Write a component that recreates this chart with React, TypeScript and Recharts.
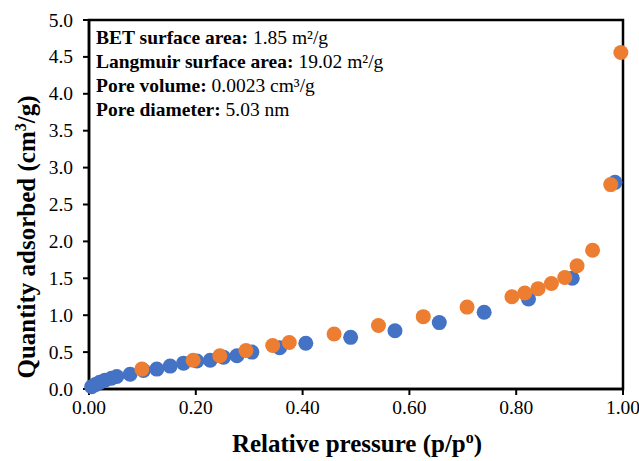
import { ScatterChart, Scatter, XAxis, YAxis, ReferenceArea, Customized } from "recharts";

// blue series
const pressureBlue = [0.005, 0.012, 0.02, 0.03, 0.042, 0.052, 0.077, 0.102, 0.127, 0.152, 0.177, 0.202, 0.227, 0.252, 0.277, 0.305, 0.357, 0.406, 0.49, 0.573, 0.656, 0.74, 0.823, 0.905, 0.985];
const quantityBlue = [0.03, 0.06, 0.09, 0.12, 0.145, 0.17, 0.2, 0.25, 0.27, 0.31, 0.35, 0.38, 0.39, 0.43, 0.45, 0.5, 0.56, 0.62, 0.7, 0.79, 0.9, 1.04, 1.22, 1.5, 2.8];

// orange series
const pressureOrange = [0.099, 0.195, 0.245, 0.294, 0.344, 0.375, 0.459, 0.542, 0.626, 0.708, 0.792, 0.816, 0.841, 0.866, 0.891, 0.914, 0.943, 0.977, 0.996];
const quantityOrange = [0.27, 0.39, 0.45, 0.52, 0.59, 0.63, 0.745, 0.86, 0.98, 1.11, 1.25, 1.3, 1.36, 1.43, 1.51, 1.67, 1.88, 2.77, 4.56];

const xTicks = [0, 0.2, 0.4, 0.6, 0.8, 1.0];
const yTicks = [0, 0.5, 1.0, 1.5, 2.0, 2.5, 3.0, 3.5, 4.0, 4.5, 5.0];

const infoLines = [
  { label: "BET surface area:", value: " 1.85 m²/g" },
  { label: "Langmuir surface area:", value: " 19.02 m²/g" },
  { label: "Pore volume:", value: " 0.0023 cm³/g" },
  { label: "Pore diameter:", value: " 5.03 nm" },
];

const blueData = pressureBlue.map((p, i) => ({ x: p, y: quantityBlue[i] }));
const orangeData = pressureOrange.map((p, i) => ({ x: p, y: quantityOrange[i] }));

const font = "Liberation Serif, DejaVu Serif, serif";

const dot = (color: string) => (props: any) => (
  <circle cx={props.cx} cy={props.cy} r={7.5} fill={color} />
);

const XTick = (props: any) => (
  <text
    x={props.x}
    y={props.y + 17}
    textAnchor="middle"
    fontSize={19.5}
    fill="#000"
    style={{ fontFamily: font }}
  >
    {Number(props.payload.value).toFixed(2)}
  </text>
);

const YTick = (props: any) => (
  <text
    x={props.x}
    y={props.y + 6.5}
    textAnchor="end"
    fontSize={19.5}
    fill="#000"
    style={{ fontFamily: font }}
  >
    {Number(props.payload.value).toFixed(1)}
  </text>
);

function Labels() {
  return (
    <g style={{ fontFamily: font }} fill="#000">
      {infoLines.map((l, i) => (
        <text key={i} x={96} y={44 + i * 24} fontSize={19.5} style={{ fontFamily: font }}>
          <tspan fontWeight="bold">{l.label}</tspan>
          <tspan>{l.value}</tspan>
        </text>
      ))}
      <text
        x={357}
        y={452}
        textAnchor="middle"
        fontSize={25}
        fontWeight="bold"
        style={{ fontFamily: font }}
      >
        Relative pressure (p/p<tspan fontSize={16} dy={-9}>o</tspan>
        <tspan dy={9}>)</tspan>
      </text>
      <text
        transform="translate(35,237) rotate(-90)"
        textAnchor="middle"
        fontSize={25}
        fontWeight="bold"
        style={{ fontFamily: font }}
      >
        Quantity adsorbed (cm<tspan fontSize={16} dy={-9}>3</tspan>
        <tspan dy={9}>/g)</tspan>
      </text>
    </g>
  );
}

export default function App() {
  return (
    <div style={{ position: "absolute", left: 0, top: 0, background: "#fff", fontFamily: font }}>
      <ScatterChart
        width={639}
        height={461}
        margin={{ top: 20, right: 16, bottom: 0, left: 0 }}
        style={{ fontFamily: font }}
      >
        <XAxis
          type="number"
          dataKey="x"
          domain={[0, 1]}
          ticks={xTicks}
          tick={XTick}
          tickSize={6}
          height={72}
          axisLine={{ stroke: "#000", strokeWidth: 2.5 }}
          tickLine={{ stroke: "#000", strokeWidth: 2 }}
          interval={0}
        />
        <YAxis
          type="number"
          dataKey="y"
          domain={[0, 5]}
          ticks={yTicks}
          tick={YTick}
          tickSize={6}
          tickMargin={10}
          width={89}
          axisLine={{ stroke: "#000", strokeWidth: 2.5 }}
          tickLine={{ stroke: "#000", strokeWidth: 2 }}
          interval={0}
        />
        <ReferenceArea
          x1={0}
          x2={1}
          y1={0}
          y2={5}
          fill="none"
          fillOpacity={0}
          stroke="#000"
          strokeWidth={2.5}
          ifOverflow="visible"
        />
        <Scatter data={blueData} fill="#4472C4" shape={dot("#4472C4")} isAnimationActive={false} />
        <Scatter data={orangeData} fill="#ED7D31" shape={dot("#ED7D31")} isAnimationActive={false} />
        <Customized component={Labels} />
      </ScatterChart>
    </div>
  );
}
